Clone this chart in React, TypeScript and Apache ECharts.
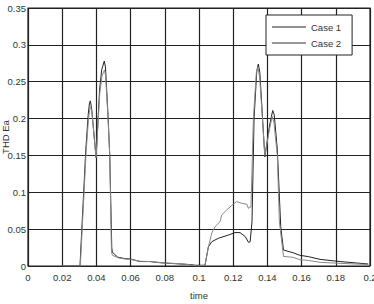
import React, { useEffect, useRef } from "react";
import * as echarts from "echarts";

const xTicks = [0, 0.02, 0.04, 0.06, 0.08, 0.1, 0.12, 0.14, 0.16, 0.18, 0.2];
const yTicks = [0, 0.05, 0.1, 0.15, 0.2, 0.25, 0.3, 0.35];

const case1Time = [
  0.02, 0.0304, 0.0338, 0.0352, 0.036, 0.0365, 0.0373, 0.0398, 0.0419, 0.0431, 0.0446, 0.0453,
  0.0468, 0.0478, 0.049, 0.0493, 0.0505, 0.0525, 0.0567, 0.06, 0.0655, 0.0713, 0.077, 0.083,
  0.089, 0.0947, 0.098, 0.1035, 0.1055, 0.1075, 0.1113, 0.1172, 0.121, 0.124, 0.127, 0.129,
  0.1299, 0.131, 0.1322, 0.1338, 0.1347, 0.1356, 0.1385, 0.1412, 0.1431, 0.1440, 0.1458,
  0.1478, 0.1494, 0.155, 0.159, 0.164, 0.1708, 0.1825, 0.199,
];
const case1Value = [
  0, 0, 0.158, 0.205, 0.222, 0.224, 0.212, 0.147, 0.24, 0.266, 0.278, 0.27,
  0.205, 0.15, 0.025, 0.019, 0.016, 0.012, 0.01, 0.0095, 0.006, 0.006, 0.0045, 0.0036,
  0.0027, 0.002, 0.001, 0.001, 0.026, 0.033, 0.0376, 0.042, 0.0453, 0.0453, 0.04, 0.032,
  0.033, 0.06, 0.2, 0.265, 0.274, 0.262, 0.148, 0.19, 0.211, 0.205, 0.158,
  0.053, 0.0217, 0.018, 0.0145, 0.0127, 0.009, 0.006, 0.0027,
];

const case2Time = [
  0.02, 0.0306, 0.034, 0.0354, 0.0362, 0.0367, 0.0375, 0.0398, 0.042, 0.0433, 0.0447, 0.0454,
  0.0468, 0.0478, 0.0488, 0.0493, 0.053, 0.0567, 0.06, 0.065, 0.072, 0.08, 0.09, 0.095, 0.099,
  0.1035, 0.1055, 0.1075, 0.1094, 0.1123, 0.1133, 0.1162, 0.1191, 0.122, 0.125, 0.128, 0.1289,
  0.1296, 0.1304, 0.1318, 0.1335, 0.1345, 0.1355, 0.1385, 0.1412, 0.1428, 0.1438, 0.1458,
  0.147, 0.1494, 0.155, 0.159, 0.164, 0.1708, 0.1825, 0.199,
];
const case2Value = [
  0, 0, 0.155, 0.2, 0.214, 0.216, 0.205, 0.147, 0.235, 0.258, 0.266, 0.258,
  0.2, 0.15, 0.02, 0.0145, 0.011, 0.0095, 0.009, 0.0065, 0.006, 0.004, 0.003, 0.0015, 0,
  0.001, 0.026, 0.045, 0.0534, 0.06, 0.0693, 0.076, 0.082, 0.0874, 0.085, 0.0838, 0.078,
  0.08, 0.08, 0.2, 0.262, 0.27, 0.255, 0.15, 0.185, 0.203, 0.195, 0.15,
  0.06, 0.013, 0.0118, 0.0085, 0.0075, 0.005, 0.0036, 0.002,
];

const FONT = "'Liberation Sans', Arial, sans-serif";

export default function App() {
  const ref = useRef<HTMLDivElement>(null);
  useEffect(() => {
    if (!ref.current) return;
    const chart = echarts.init(ref.current, null, { renderer: "svg" });
    const pairs = (t: number[], v: number[]) => t.map((x, i) => [x, v[i]]);
    chart.setOption({
      animation: false,
      backgroundColor: "#fff",
      textStyle: { fontFamily: FONT },
      grid: {
        left: 28,
        right: 4,
        top: 8,
        bottom: 38,
        show: true,
        containLabel: false,
        outerBoundsMode: "none",
        borderColor: "#222",
        borderWidth: 1.2,
      },
      legend: {
        orient: "vertical",
        left: 266,
        top: 15,
        padding: [7, 11, 7, 6],
        itemGap: 6,
        itemWidth: 34,
        itemHeight: 1,
        icon: "rect",
        backgroundColor: "#fff",
        borderColor: "#222",
        borderWidth: 1,
        textStyle: { fontFamily: FONT, fontSize: 9.5, color: "#333" },
        data: ["Case 1", "Case 2"],
      },
      xAxis: {
        type: "value",
        min: 0,
        max: 0.2,
        interval: 0.02,
        name: "time",
        nameLocation: "middle",
        nameGap: 24,
        nameMoveOverlap: false,
        nameTextStyle: { fontFamily: FONT, fontSize: 9.5, color: "#333" },
        axisLine: { show: false },
        axisTick: { show: false },
        axisLabel: {
          fontFamily: FONT,
          fontSize: 9.5,
          color: "#333",
          margin: 6,
          formatter: (v: number) => {
            const t = xTicks.find((x) => Math.abs(x - v) < 1e-9);
            return t === undefined ? "" : String(Number(t.toFixed(2)));
          },
        },
        splitLine: { show: true, lineStyle: { color: "#222", width: 1.2 } },
      },
      yAxis: {
        type: "value",
        min: 0,
        max: 0.35,
        interval: 0.05,
        name: "THD Ea",
        nameLocation: "middle",
        nameGap: 18,
        nameMoveOverlap: false,
        nameTextStyle: { fontFamily: FONT, fontSize: 9.5, color: "#333" },
        axisLine: { show: false },
        axisTick: { show: false },
        axisLabel: {
          fontFamily: FONT,
          fontSize: 9.5,
          color: "#333",
          margin: 2,
          formatter: (v: number) => {
            const t = yTicks.find((x) => Math.abs(x - v) < 1e-9);
            return t === undefined ? "" : String(Number(t.toFixed(2)));
          },
        },
        splitLine: { show: true, lineStyle: { color: "#222", width: 1.2 } },
      },
      series: [
        {
          name: "Case 1",
          type: "line",
          data: pairs(case1Time, case1Value),
          showSymbol: false,
          symbol: "none",
          lineStyle: { color: "#222", width: 1 },
          itemStyle: { color: "#222" },
        },
        {
          name: "Case 2",
          type: "line",
          data: pairs(case2Time, case2Value),
          showSymbol: false,
          symbol: "none",
          lineStyle: { color: "#888", width: 1 },
          itemStyle: { color: "#333" },
        },
      ],
    });
    return () => chart.dispose();
  }, []);
  return (
    <div
      ref={ref}
      style={{ position: "fixed", left: 0, top: 0, width: 374, height: 304 }}
    />
  );
}
